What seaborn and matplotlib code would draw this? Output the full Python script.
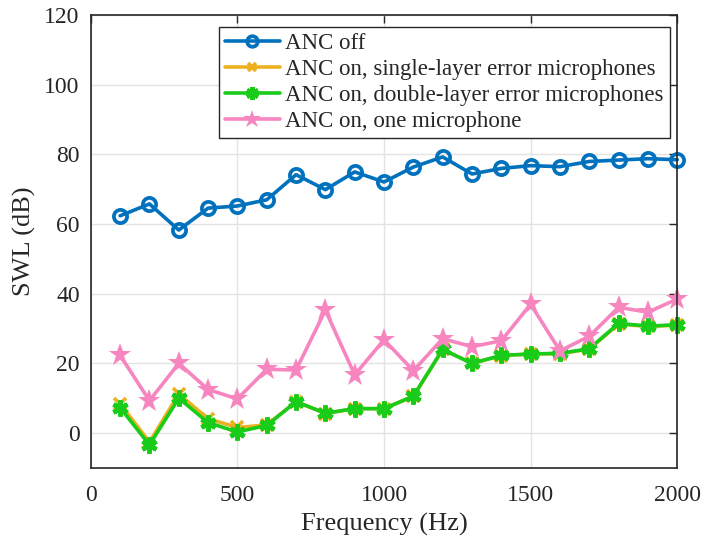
import numpy as np
import pandas as pd
import seaborn as sns
import matplotlib.pyplot as plt


# =========================
# data
# =========================

freq = [100, 200, 300, 400, 500, 600, 700, 800, 900, 1000,
        1100, 1200, 1300, 1400, 1500, 1600, 1700, 1800, 1900, 2000]

anc_off = [62.4, 65.8, 58.3, 64.6, 65.2, 67.0, 74.2, 69.9, 75.0, 72.1,
           76.4, 79.3, 74.4, 76.0, 76.8, 76.5, 78.0, 78.4, 78.8, 78.5]

anc_single = [8.4, -2.6, 11.2, 4.1, 1.6, 2.3, 9.0, 5.6, 7.0, 7.0,
              10.5, 24.0, 20.0, 22.2, 22.7, 22.8, 24.1, 31.3, 30.6, 31.0]

anc_double = [7.3, -3.4, 10.0, 3.0, 0.3, 2.2, 9.0, 5.7, 7.0, 7.0,
              10.6, 24.0, 20.0, 22.3, 22.7, 22.9, 24.2, 31.5, 30.7, 31.1]

anc_one_mic = [22.3, 9.3, 20.0, 12.5, 9.8, 18.3, 18.1, 35.3, 16.7, 26.8,
               17.9, 27.1, 24.8, 26.5, 37.0, 23.6, 27.8, 36.1, 34.7, 38.5]

labels = ["ANC off",
          "ANC on, single-layer error microphones",
          "ANC on, double-layer error microphones",
          "ANC on, one microphone"]

x_ticks = [0, 500, 1000, 1500, 2000]
y_ticks = [0, 20, 40, 60, 80, 100, 120]


# =========================
# style
# =========================

sns.set_style("white")
plt.rcParams['font.family'] = ['Liberation Serif', 'DejaVu Serif']

fig = plt.figure(figsize=(7.04, 5.44), dpi=100)
ax = fig.add_axes([0.129, 0.140, 0.833, 0.832])

colors = ["#0072BD", "#EDB120", "#1ACC1A", "#F785BF"]

df = pd.DataFrame({
    "freq": freq * 4,
    "swl": anc_off + anc_single + anc_double + anc_one_mic,
    "series": [lab for lab in labels for _ in freq],
})

sns.lineplot(data=df, x="freq", y="swl", hue="series", style="series",
             hue_order=labels, style_order=labels,
             palette=colors, markers=["o", "X", "P", "*"], dashes=False,
             linewidth=2.6, ax=ax, legend=False)

# marker details (MATLAB-like: open circle, x, asterisk, filled star)
marker_kw = [
    dict(marker="o", markersize=9.5, markerfacecolor="none", markeredgewidth=2.7),
    dict(marker="x", markersize=8, markeredgewidth=2.6),
    dict(marker=(6, 2, 0), markersize=11.5, markeredgewidth=3.3),
    dict(marker="*", markersize=17, markeredgewidth=0),
]
for line, kw, c in zip(ax.lines[:4], marker_kw, colors):
    line.set_linestyle("-")
    line.set_markeredgecolor(c)
    line.set_markerfacecolor(c)
    line.set(**kw)
    line.set_clip_on(False)


# =========================
# axes
# =========================

ax.set_xlim(0, 2000)
ax.set_ylim(-10, 120)
ax.set_xticks(x_ticks)
ax.set_yticks(y_ticks)
ax.tick_params(labelsize=17, direction="in", length=6, width=1,
               color="#262626", top=True, right=True, pad=8)
ax.tick_params(axis="x", pad=12)
ax.grid(True, color="#E3E3E3", linewidth=1)
ax.set_axisbelow(True)
for sp in ax.spines.values():
    sp.set_color("#262626")
    sp.set_linewidth(1.2)

ax.set_xlabel("Frequency (Hz)", fontsize=19, labelpad=5)
ax.set_ylabel("SWL (dB)", fontsize=19, labelpad=6)

handles = ax.lines[:4]
leg = ax.legend(handles, labels, loc="upper right",
                bbox_to_anchor=(0.987, 0.973), fontsize=16.5,
                frameon=True, fancybox=False, framealpha=1, edgecolor="#262626",
                borderpad=0.25, labelspacing=0.22, handlelength=2.4,
                handletextpad=0.25, borderaxespad=0)
leg.get_frame().set_linewidth(1)
for lh, kw in zip(leg.get_lines(), marker_kw):
    lh.set_markersize(kw["markersize"] * 0.8)

fig.savefig("out.png", dpi=100)
